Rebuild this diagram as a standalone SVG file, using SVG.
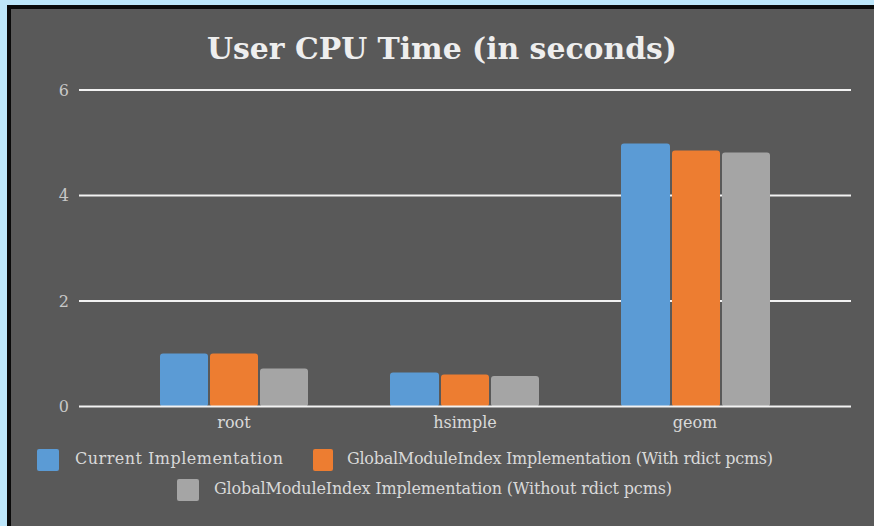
<svg xmlns="http://www.w3.org/2000/svg" width="874" height="526" viewBox="0 0 874 526">
<style>
.t{font-family:"DejaVu Serif","Liberation Serif",serif;fill:#d9d9d9}
.title{font-size:30px;font-weight:bold;fill:#eeeeee;text-anchor:middle}
.ax{font-size:16px;text-anchor:end;fill:#c8c8c8}
.cat{font-size:16px;text-anchor:middle}
.lg{font-size:16px}
.grid{stroke:#f2f2f2;stroke-width:2}
.b{fill:#5b9bd5}.o{fill:#ed7d31}.g{fill:#a5a5a5}
</style>
<rect x="0" y="0" width="874" height="526" fill="#bde6fa"/>
<rect x="9" y="7" width="870" height="525" fill="#595959" stroke="#0a0a0a" stroke-width="4"/>
<text class="t title" x="442" y="59" textLength="470" lengthAdjust="spacingAndGlyphs">User CPU Time (in seconds)</text>
<g id="axis">
<line class="grid" x1="79" y1="90" x2="851" y2="90"/>
<line class="grid" x1="79" y1="195.5" x2="851" y2="195.5"/>
<line class="grid" x1="79" y1="301" x2="851" y2="301"/>
<text class="t ax" x="69" y="95.5">6</text>
<text class="t ax" x="69" y="201">4</text>
<text class="t ax" x="69" y="306.5">2</text>
<text class="t ax" x="69" y="412">0</text>
</g>
<g id="bars">
<rect class="b" x="160" y="353.5" width="48" height="53" rx="3"/>
<rect class="o" x="210" y="353.5" width="48" height="53" rx="3"/>
<rect class="g" x="260" y="368.5" width="48" height="38" rx="3"/>
<rect class="b" x="390" y="372.5" width="49" height="34" rx="3"/>
<rect class="o" x="441" y="374.5" width="48" height="32" rx="3"/>
<rect class="g" x="491" y="376" width="48" height="30.5" rx="3"/>
<rect class="b" x="621" y="143.5" width="49" height="263" rx="3"/>
<rect class="o" x="672" y="150.5" width="48" height="256" rx="3"/>
<rect class="g" x="722" y="152.5" width="48" height="254" rx="3"/>
</g>
<line class="grid" x1="79" y1="406.5" x2="851" y2="406.5"/>
<text class="t cat" x="234" y="428">root</text>
<text class="t cat" x="465" y="428">hsimple</text>
<text class="t cat" x="695" y="428">geom</text>
<g id="legend">
<rect class="b" x="37" y="449" width="22" height="22" rx="2"/>
<text class="t lg" x="75" y="464" textLength="208">Current Implementation</text>
<rect class="o" x="313" y="449" width="20" height="22" rx="2"/>
<text class="t lg" x="347" y="464" textLength="426">GlobalModuleIndex Implementation (With rdict pcms)</text>
<rect class="g" x="177" y="479" width="22" height="22" rx="2"/>
<text class="t lg" x="214" y="494" textLength="458">GlobalModuleIndex Implementation (Without rdict pcms)</text>
</g>
</svg>
